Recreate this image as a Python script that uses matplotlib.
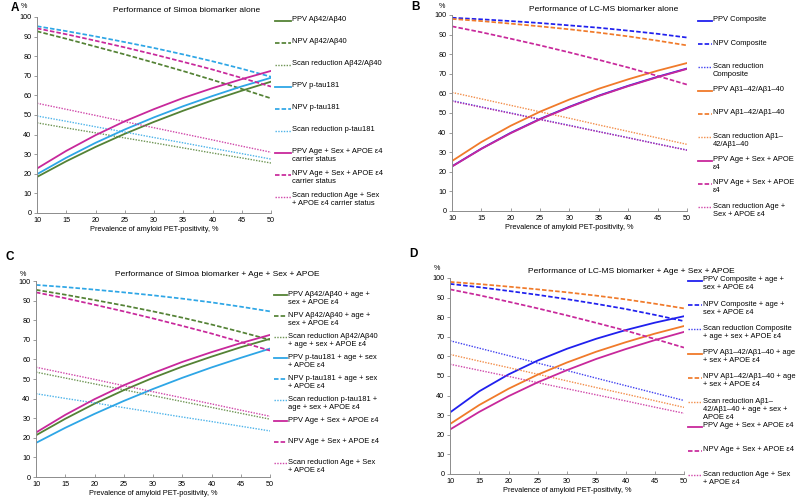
import matplotlib
matplotlib.use('Agg')
import matplotlib.pyplot as plt
from matplotlib.lines import Line2D

plt.rcParams['font.family'] = ['Liberation Sans', 'DejaVu Sans']

prevalence = [10, 15, 20, 25, 30, 35, 40, 45, 50]

# shared reference model: age + sex + APOE e4
asa_ppv = [22.7, 31.7, 39.7, 46.8, 53.0, 58.7, 63.7, 68.3, 72.5]
asa_npv = [94.2, 91.2, 87.9, 84.5, 80.9, 77.1, 73.2, 68.9, 64.5]
asa_scan = [56.0, 52.9, 49.8, 46.6, 43.5, 40.4, 37.3, 34.1, 31.0]

# A: Simoa alone
a_ppv_ab = [18.4, 26.4, 33.7, 40.4, 46.5, 52.2, 57.5, 62.4, 67.0]
a_npv_ab = [92.7, 88.9, 84.9, 80.9, 76.7, 72.4, 67.9, 63.3, 58.5]
a_scan_ab = [46.0, 43.4, 40.9, 38.3, 35.8, 33.2, 30.6, 28.1, 25.5]
a_ppv_pt = [19.8, 28.2, 35.8, 42.6, 48.8, 54.5, 59.7, 64.6, 69.0]
a_npv_pt = [95.3, 92.8, 90.1, 87.2, 84.2, 80.9, 77.4, 73.6, 69.5]
a_scan_pt = [49.5, 46.8, 44.0, 41.3, 38.5, 35.8, 33.0, 30.3, 27.5]

# B: LC-MS alone
b_ppv_comp = [22.8, 31.8, 39.9, 47.0, 53.2, 58.9, 63.9, 68.5, 72.7]
b_npv_comp = [98.6, 97.8, 96.9, 95.9, 94.7, 93.5, 92.0, 90.4, 88.5]
b_scan_comp = [56.3, 53.1, 50.0, 46.8, 43.7, 40.5, 37.4, 34.2, 31.1]
b_ppv_ab = [25.5, 35.2, 43.5, 50.7, 56.9, 62.4, 67.2, 71.6, 75.5]
b_npv_ab = [98.0, 96.9, 95.6, 94.2, 92.7, 91.0, 89.1, 86.9, 84.5]
b_scan_ab = [60.5, 57.2, 53.9, 50.6, 47.3, 43.9, 40.6, 37.3, 34.0]

# C: Simoa + age + sex + APOE
c_ppv_ab = [21.3, 29.7, 37.4, 44.3, 50.6, 56.3, 61.4, 66.2, 70.5]
c_npv_ab = [95.5, 93.0, 90.3, 87.5, 84.5, 81.3, 77.8, 74.0, 70.0]
c_scan_ab = [53.5, 50.5, 47.5, 44.5, 41.5, 38.5, 35.5, 32.5, 29.5]
c_ppv_pt = [17.4, 25.1, 32.2, 38.8, 44.9, 50.6, 55.9, 60.8, 65.5]
c_npv_pt = [98.0, 96.9, 95.6, 94.2, 92.7, 91.0, 89.1, 86.9, 84.5]
c_scan_pt = [42.5, 40.1, 37.8, 35.4, 33.0, 30.6, 28.3, 25.9, 23.5]

# D: LC-MS + age + sex + APOE
d_ppv_comp = [31.4, 42.2, 50.8, 57.9, 63.9, 69.0, 73.4, 77.2, 80.5]
d_npv_comp = [97.0, 95.3, 93.4, 91.4, 89.2, 86.8, 84.2, 81.2, 78.0]
d_scan_comp = [68.0, 64.2, 60.4, 56.6, 52.8, 48.9, 45.1, 41.3, 37.5]
d_ppv_ab = [25.5, 35.2, 43.5, 50.7, 56.9, 62.4, 67.2, 71.6, 75.5]
d_npv_ab = [98.0, 96.9, 95.6, 94.2, 92.7, 91.0, 89.1, 86.9, 84.5]
d_scan_ab = [61.0, 57.6, 54.3, 50.9, 47.5, 44.1, 40.8, 37.4, 34.0]

green = '#548235'
lblue = '#2EA6E6'
magenta = '#C8289B'
blue = '#2020EE'
orange = '#F07A2A'

solid = dict(ls='-', lw=1.3)
dashed = dict(ls=(0, (2.6, 1.2)), lw=1.25)
dotted = dict(ls=(0, (1, 1)), lw=1.0, alpha=0.85)

W, H = 800, 500
fig = plt.figure(figsize=(8, 5), dpi=100)


def px_axes(l, t, r, b):
    return fig.add_axes([l / W, 1 - b / H, (r - l) / W, (b - t) / H])


panels = [
    dict(rect=(37, 17, 271, 213), letter='A', letter_xy=(15, 8),
         title='Performance of Simoa biomarker alone', title_xy=(187, 10.7),
         pct_xy=(24, 6), leg=(275, 291, 292, 20.7, 22.0),
         series=[
             (a_ppv_ab, green, solid, 'PPV Aβ42/Aβ40'),
             (a_npv_ab, green, dashed, 'NPV Aβ42/Aβ40'),
             (a_scan_ab, green, dotted, 'Scan reduction Aβ42/Aβ40'),
             (a_ppv_pt, lblue, solid, 'PPV p-tau181'),
             (a_npv_pt, lblue, dashed, 'NPV p-tau181'),
             (a_scan_pt, lblue, dotted, 'Scan reduction p-tau181'),
             (asa_ppv, magenta, solid, 'PPV Age + Sex + APOE ε4\ncarrier status'),
             (asa_npv, magenta, dashed, 'NPV Age + Sex + APOE ε4\ncarrier status'),
             (asa_scan, magenta, dotted, 'Scan reduction Age + Sex\n+ APOE ε4 carrier status'),
         ]),
    dict(rect=(452, 15, 687, 211), letter='B', letter_xy=(415, 7),
         title='Performance of LC-MS biomarker alone', title_xy=(604, 9.3),
         pct_xy=(442, 6), leg=(698, 712, 713, 20.7, 23.3),
         series=[
             (b_ppv_comp, blue, solid, 'PPV Composite'),
             (b_npv_comp, blue, dashed, 'NPV Composite'),
             (b_scan_comp, blue, dotted, 'Scan reduction\nComposite'),
             (b_ppv_ab, orange, solid, 'PPV Aβ1–42/Aβ1–40'),
             (b_npv_ab, orange, dashed, 'NPV Aβ1–42/Aβ1–40'),
             (b_scan_ab, orange, dotted, 'Scan reduction Aβ1–\n42/Aβ1–40'),
             (asa_ppv, magenta, solid, 'PPV Age + Sex + APOE\nε4'),
             (asa_npv, magenta, dashed, 'NPV Age + Sex + APOE\nε4'),
             (asa_scan, magenta, dotted, 'Scan reduction Age +\nSex + APOE ε4'),
         ]),
    dict(rect=(36, 281, 270, 477), letter='C', letter_xy=(10, 257),
         title='Performance of Simoa biomarker + Age + Sex + APOE', title_xy=(217.5, 275),
         pct_xy=(23, 274), leg=(274, 287, 288, 295, 21.0),
         series=[
             (c_ppv_ab, green, solid, 'PPV Aβ42/Aβ40 + age +\nsex + APOE ε4'),
             (c_npv_ab, green, dashed, 'NPV Aβ42/Aβ40 + age +\nsex + APOE ε4'),
             (c_scan_ab, green, dotted, 'Scan reduction Aβ42/Aβ40\n+ age + sex + APOE ε4'),
             (c_ppv_pt, lblue, solid, 'PPV p-tau181 + age + sex\n+ APOE ε4'),
             (c_npv_pt, lblue, dashed, 'NPV p-tau181 + age + sex\n+ APOE ε4'),
             (c_scan_pt, lblue, dotted, 'Scan reduction p-tau181 +\nage + sex + APOE ε4'),
             (asa_ppv, magenta, solid, 'PPV Age + Sex + APOE ε4'),
             (asa_npv, magenta, dashed, 'NPV Age + Sex + APOE ε4'),
             (asa_scan, magenta, dotted, 'Scan reduction Age + Sex\n+ APOE ε4'),
         ]),
    dict(rect=(450, 278, 684, 474), letter='D', letter_xy=(413, 254),
         title='Performance of LC-MS biomarker + Age + Sex + APOE', title_xy=(631.7, 271.7),
         pct_xy=(437, 269), leg=(688, 702, 703, 280.7, 24.3),
         series=[
             (d_ppv_comp, blue, solid, 'PPV Composite + age +\nsex + APOE ε4'),
             (d_npv_comp, blue, dashed, 'NPV Composite + age +\nsex + APOE ε4'),
             (d_scan_comp, blue, dotted, 'Scan reduction Composite\n+ age + sex + APOE ε4'),
             (d_ppv_ab, orange, solid, 'PPV Aβ1–42/Aβ1–40 + age\n+ sex + APOE ε4'),
             (d_npv_ab, orange, dashed, 'NPV Aβ1–42/Aβ1–40 + age\n+ sex + APOE ε4'),
             (d_scan_ab, orange, dotted, 'Scan reduction Aβ1–\n42/Aβ1–40 + age + sex +\nAPOE ε4'),
             (asa_ppv, magenta, solid, 'PPV Age + Sex + APOE ε4'),
             (asa_npv, magenta, dashed, 'NPV Age + Sex + APOE ε4'),
             (asa_scan, magenta, dotted, 'Scan reduction Age + Sex\n+ APOE ε4'),
         ]),
]

for p in panels:
    ax = px_axes(*p['rect'])
    for vals, col, style, label in p['series']:
        ax.plot(prevalence, vals, color=col, **style)

    ax.set_xlim(10, 50)
    ax.set_ylim(0, 100)
    ax.set_xticks(range(10, 51, 5))
    ax.set_yticks(range(0, 101, 10))
    for s in ['top', 'right']:
        ax.spines[s].set_visible(False)
    for s in ['left', 'bottom']:
        ax.spines[s].set_color('#8c8c8c')
        ax.spines[s].set_linewidth(0.7)
    ax.tick_params(axis='y', direction='out', length=2, width=0.6, color='#8c8c8c',
                   labelsize=5.2, pad=2)
    ax.tick_params(axis='x', direction='in', length=2, width=0.6, color='#8c8c8c',
                   labelsize=5.2, pad=3)
    ax.set_xlabel('Prevalence of amyloid PET-positivity, %', fontsize=5.3, labelpad=1)

    fig.text(p['title_xy'][0] / W, 1 - p['title_xy'][1] / H, p['title'],
             ha='center', va='center', fontsize=6)
    fig.text(p['pct_xy'][0] / W, 1 - p['pct_xy'][1] / H, '%',
             ha='center', va='center', fontsize=5.2)
    fig.text(p['letter_xy'][0] / W, 1 - p['letter_xy'][1] / H, p['letter'],
             ha='center', va='center', fontsize=8.5, fontweight='bold')

    # legend drawn entry by entry, handle aligned with first text line
    hx0, hx1, tx, y0, step = p['leg']
    for i, (vals, col, style, label) in enumerate(p['series']):
        y = y0 + i * step
        fig.add_artist(Line2D([hx0 / W, hx1 / W], [1 - y / H, 1 - y / H],
                              transform=fig.transFigure, color=col, **style))
        fig.text(tx / W, 1 - (y - 4.4) / H, label, ha='left', va='top',
                 fontsize=5.4, linespacing=1.2)

fig.savefig('out.png', dpi=100)
